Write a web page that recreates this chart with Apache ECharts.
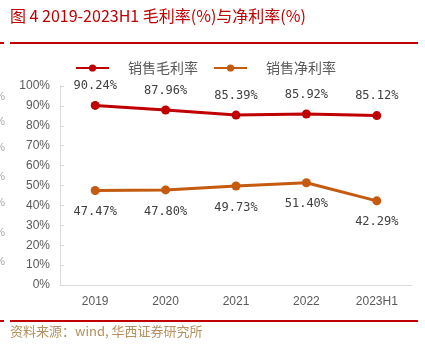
<!DOCTYPE html>
<html><head><meta charset="utf-8">
<script src="https://cdn.jsdelivr.net/npm/echarts@6/dist/echarts.min.js"></script>
<style>html,body{margin:0;padding:0;background:#fff}#c{width:425px;height:346px}</style>
</head><body><div id="c"></div>
<script>
const categories = ['2019','2020','2021','2022','2023H1'];
const grossMargin = [90.24, 87.96, 85.39, 85.92, 85.12];
const netMargin = [47.47, 47.80, 49.73, 51.40, 42.29];
const seriesNames = ['销售毛利率','销售净利率'];
const titleText = '图 4 2019-2023H1 毛利率(%)与净利率(%)';
const sourceText = '资料来源：wind, 华西证券研究所';
const leftFragments = [97, 122, 148, 177, 203, 233, 262];

const chart = echarts.init(document.getElementById('c'), null, {renderer:'canvas'});
const cjk = '"Noto Sans CJK SC", sans-serif';
const graphics = [
  {type:'text', left:10, top:8, style:{text:titleText, fill:'#c00000', font:'16px ' + cjk}},
  {type:'rect', shape:{x:10,y:42,width:408,height:2}, style:{fill:'#c00000'}},
  {type:'rect', shape:{x:0,y:42,width:4,height:2}, style:{fill:'#c00000'}},
  {type:'rect', shape:{x:10,y:320,width:408,height:2}, style:{fill:'#c00000'}},
  {type:'rect', shape:{x:0,y:320,width:4,height:2}, style:{fill:'#c00000'}},
  {type:'text', left:10, top:325, style:{text:sourceText, fill:'#b4915f', font:'13px ' + cjk}}
];
leftFragments.forEach(y => graphics.push({type:'text', x:5, y:y, style:{text:'0%', fill:'#aaa', font:'11px "Liberation Sans"', align:'right', verticalAlign:'middle'}}));

chart.setOption({
  animation:false,
  graphic: graphics,
  legend:{
    top:56, left:70, itemWidth:33, itemHeight:9, itemGap:15,
    textStyle:{color:'#595959', fontSize:14, fontFamily:cjk, padding:[0,0,0,14]},
    data: seriesNames
  },
  grid:{left:60, right:13, top:86, bottom:61},
  xAxis:{
    type:'category', data:categories, boundaryGap:true,
    axisLine:{lineStyle:{color:'#d9d9d9'}},
    axisTick:{inside:true, length:4, lineStyle:{color:'#d9d9d9'}},
    axisLabel:{color:'#595959', fontSize:12, fontFamily:'"Liberation Sans"', margin:11}
  },
  yAxis:{
    type:'value', min:0, max:100, interval:10,
    axisLine:{show:true, lineStyle:{color:'#d9d9d9'}},
    axisTick:{show:true, inside:true, length:4, lineStyle:{color:'#d9d9d9'}},
    splitLine:{show:false},
    axisLabel:{formatter:'{value}%', color:'#595959', fontSize:12, fontFamily:'"Liberation Sans"', margin:10}
  },
  series:[
    {name:seriesNames[0], type:'line', data:grossMargin, symbol:'circle', symbolSize:9,
     itemStyle:{color:'#c00000'}, lineStyle:{width:3, color:'#c00000'},
     label:{show:true, position:'top', distance:9, formatter:p=>p.value.toFixed(2)+'%', color:'#404040', fontSize:12, fontFamily:'"DejaVu Sans Mono"'}},
    {name:seriesNames[1], type:'line', data:netMargin, symbol:'circle', symbolSize:9,
     itemStyle:{color:'#c55a11'}, lineStyle:{width:3, color:'#c55a11'},
     label:{show:true, position:'bottom', distance:11, formatter:p=>p.value.toFixed(2)+'%', color:'#404040', fontSize:12, fontFamily:'"DejaVu Sans Mono"'}}
  ]
});
</script></body></html>
